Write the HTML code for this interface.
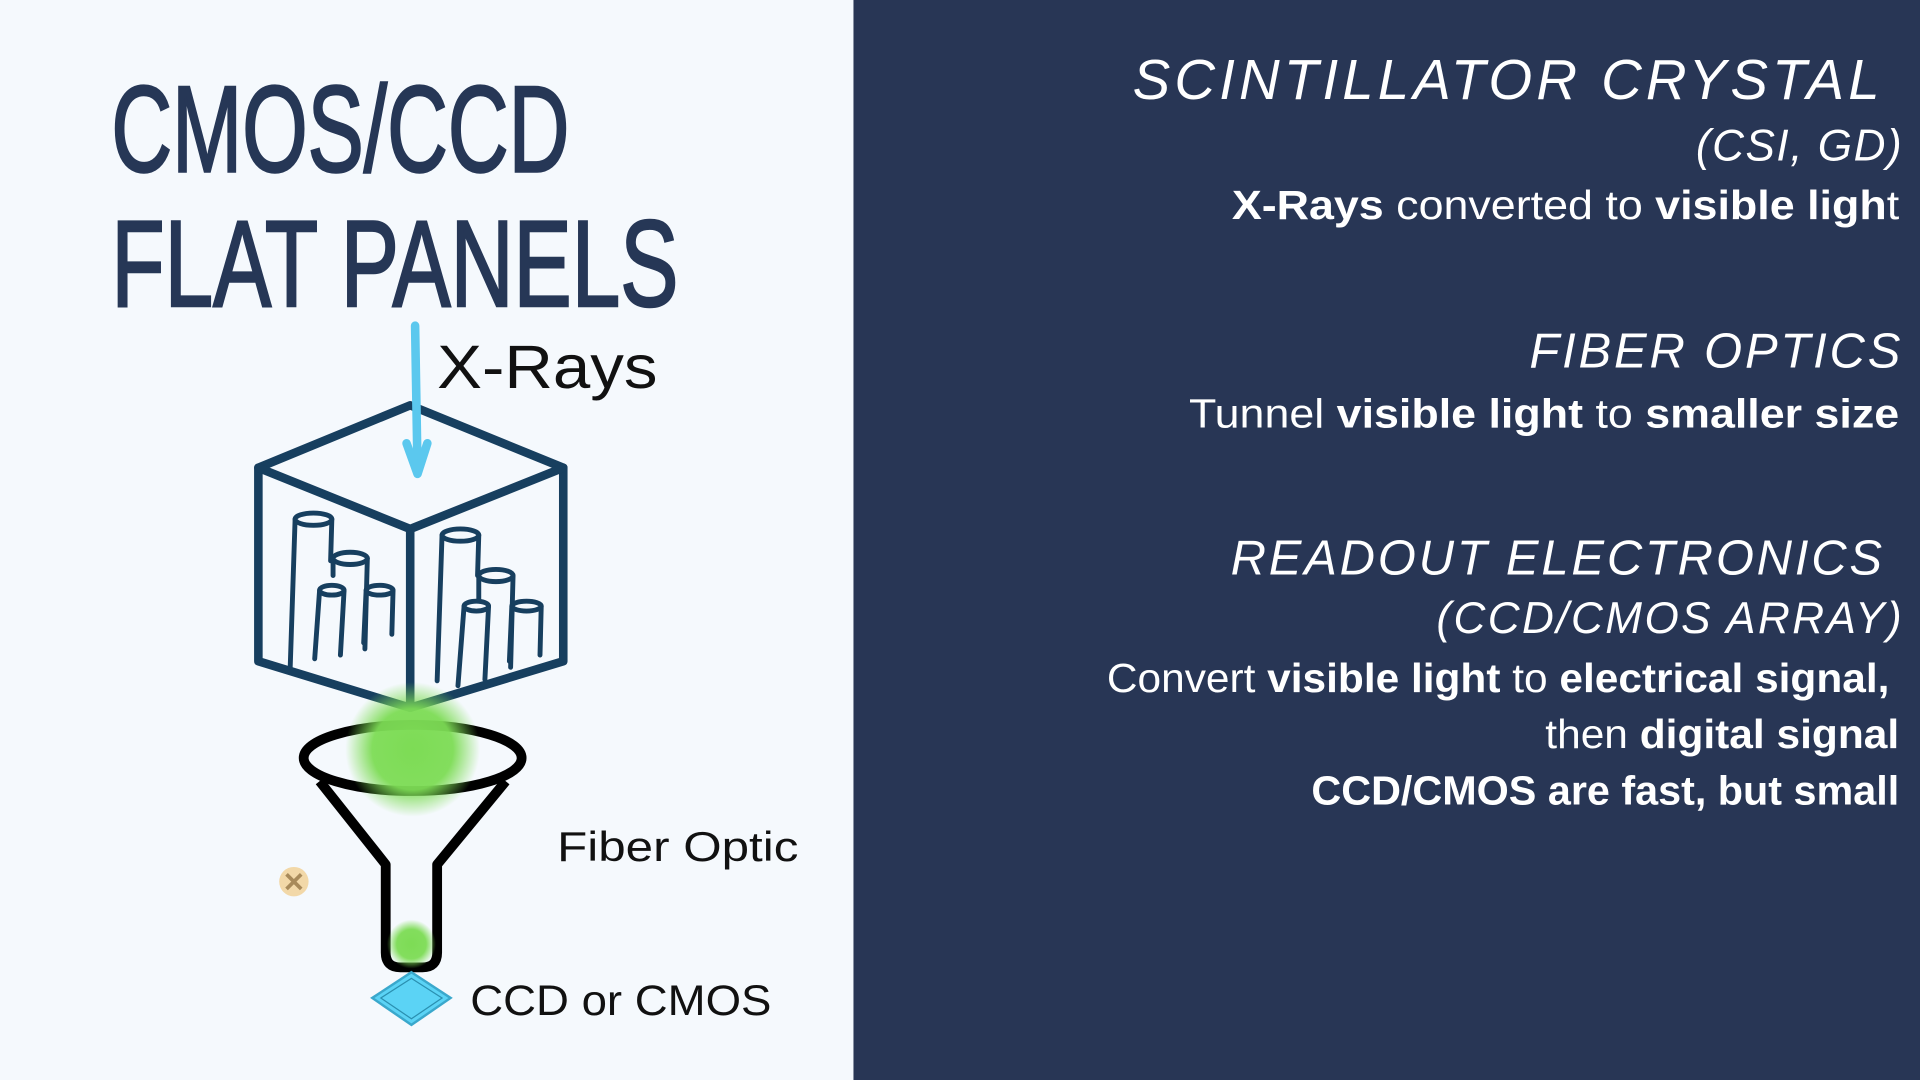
<!DOCTYPE html>
<html><head><meta charset="utf-8"><style>
html,body{margin:0;padding:0;width:1920px;height:1080px;overflow:hidden;background:#f5f9fd}
svg{display:block}
</style></head><body>
<svg width="1920" height="1080" viewBox="0 0 1568 882" xmlns="http://www.w3.org/2000/svg">
<defs>
<radialGradient id="g1"><stop offset="0" stop-color="#7ddc55"/><stop offset="0.6" stop-color="#7ddc55" stop-opacity="0.95"/><stop offset="1" stop-color="#7ddc55" stop-opacity="0"/></radialGradient>
</defs>
<rect x="0" y="0" width="697" height="882" fill="#f5f9fd"/>
<rect x="697" y="0" width="871" height="882" fill="#283655"/>
<g font-family="Liberation Sans, sans-serif" fill="#263756" stroke="#263756" stroke-width="2" font-size="100">
<text x="91" y="140" textLength="374" lengthAdjust="spacingAndGlyphs">CMOS/CCD</text>
<text x="91" y="250" textLength="463" lengthAdjust="spacingAndGlyphs">FLAT PANELS</text>
</g>
<!-- cube -->
<g fill="none" stroke="#173f5f" stroke-width="7" stroke-linejoin="round" stroke-linecap="round">
<path d="M335,331 L211,382 L211,540 L335,578 L460,540 L460,382 Z"/>
<path d="M211,382 L335,432 L460,382 M335,432 L335,578"/>
</g>
<g fill="none" stroke="#173f5f" stroke-width="4" stroke-linecap="round">
<ellipse cx="256" cy="424" rx="15" ry="5"/><path d="M241,424 L237,545 M271,424 L270,458"/>
<ellipse cx="286" cy="456" rx="14" ry="5"/><path d="M272,456 L272,470 M300,456 L298,530"/>
<ellipse cx="271" cy="482" rx="10" ry="4"/><path d="M261,482 L257,538 M281,482 L278,535"/>
<ellipse cx="310" cy="482" rx="11" ry="4"/><path d="M299,482 L297,525 M321,482 L320,518"/>
<ellipse cx="376" cy="437" rx="15" ry="5"/><path d="M361,437 L357,556 M391,437 L390,470"/>
<ellipse cx="405" cy="470" rx="14" ry="5"/><path d="M391,470 L391,490 M419,470 L417,545"/>
<ellipse cx="389" cy="495" rx="10" ry="4"/><path d="M379,495 L374,560 M399,495 L396,555"/>
<ellipse cx="430" cy="495" rx="12" ry="4"/><path d="M418,495 L416,540 M442,495 L441,535"/>
</g>
<!-- arrow -->
<g stroke="#5bc8ee" stroke-width="7" fill="none" stroke-linecap="round" stroke-linejoin="round">
<path d="M339,266 L341,385"/><path d="M332,362 L341,387 L349,362"/>
</g>
<!-- funnel -->
<g fill="none" stroke="#000" stroke-width="8" stroke-linejoin="round">
<ellipse cx="337" cy="619" rx="89" ry="27"/>
<path d="M261,638 L315,706 L315,778 Q315,790 327,790 L345,790 Q357,790 357,778 L357,706 L413,638"/>
</g>
<circle cx="337" cy="612" r="55" fill="url(#g1)"/>
<circle cx="336" cy="771" r="20" fill="url(#g1)"/>
<!-- diamond -->
<path d="M336,794 L368,815 L336,837 L304,815 Z" fill="#5bd3f5" stroke="#3aa8cc" stroke-width="2"/>
<path d="M336,799 L361,815 L336,832 L311,815 Z" fill="none" stroke="#2a8fb0" stroke-width="1"/>
<!-- small icon -->
<circle cx="240" cy="720" r="12" fill="#f2d8a8"/>
<path d="M234,714 L246,726 M246,714 L234,726" stroke="#a88a5a" stroke-width="3"/>
<g font-family="Liberation Sans, sans-serif" fill="#111">
<text x="357" y="317" font-size="50" textLength="180" lengthAdjust="spacingAndGlyphs">X-Rays</text>
<text x="455" y="703" font-size="34" textLength="197" lengthAdjust="spacingAndGlyphs">Fiber Optic</text>
<text x="384" y="829" font-size="35" textLength="246" lengthAdjust="spacingAndGlyphs">CCD or CMOS</text>
</g>
<!-- right text -->
<g font-family="Liberation Sans, sans-serif" fill="#fff" text-anchor="end">
<g font-style="italic">
<text x="1535" y="81" font-size="46" textLength="610" lengthAdjust="spacing">SCINTILLATOR CRYSTAL</text>
<text x="1553" y="131" font-size="36" textLength="168" lengthAdjust="spacing">(CSI, GD)</text>
<text x="1552" y="300" font-size="40" textLength="303" lengthAdjust="spacing">FIBER OPTICS</text>
<text x="1537" y="469" font-size="40" textLength="532" lengthAdjust="spacing">READOUT ELECTRONICS</text>
<text x="1553" y="517" font-size="36" textLength="380" lengthAdjust="spacing">(CCD/CMOS ARRAY)</text>
</g>
<g font-size="33">
<text x="1551" y="179" textLength="545" lengthAdjust="spacingAndGlyphs"><tspan font-weight="bold">X-Rays</tspan> converted to <tspan font-weight="bold">visible ligh</tspan>t</text>
<text x="1551" y="349" textLength="580" lengthAdjust="spacingAndGlyphs">Tunnel <tspan font-weight="bold">visible light</tspan> to <tspan font-weight="bold">smaller size</tspan></text>
<text x="1543" y="565" textLength="639" lengthAdjust="spacingAndGlyphs">Convert  <tspan font-weight="bold">visible light</tspan> to <tspan font-weight="bold">electrical signal,</tspan></text>
<text x="1551" y="611" textLength="289" lengthAdjust="spacingAndGlyphs">then <tspan font-weight="bold">digital signal</tspan></text>
<text x="1551" y="657" textLength="480" lengthAdjust="spacingAndGlyphs" font-weight="bold">CCD/CMOS are fast, but small</text>
</g>
</g>
</svg>
</body></html>
